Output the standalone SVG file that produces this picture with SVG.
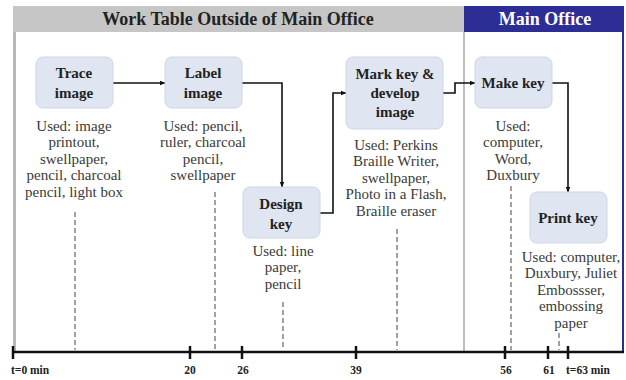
<svg xmlns="http://www.w3.org/2000/svg" width="626" height="380" viewBox="0 0 626 380">
<defs>
<style>
.node rect{fill:#dfe5f1;stroke:#cdd5e4;stroke-width:1}
.nl{font-family:"Liberation Serif",serif;font-weight:bold;font-size:15px;fill:#222;text-anchor:middle}
.used{font-family:"Liberation Serif",serif;font-size:15px;fill:#3a3a3a;text-anchor:middle}
.hdr{font-family:"Liberation Serif",serif;font-weight:bold;font-size:18px;text-anchor:middle}
.tl{font-family:"Liberation Serif",serif;font-weight:bold;font-size:11.5px;fill:#222}
.conn{fill:none;stroke:#111;stroke-width:1.6}
.dash{stroke:#444;stroke-width:1;stroke-dasharray:5,3}
.tick{stroke:#111;stroke-width:2.5}
</style>
<marker id="arr" viewBox="0 0 10 10" refX="9" refY="5" markerWidth="6" markerHeight="6" orient="auto" markerUnits="userSpaceOnUse">
<path d="M0,1 L10,5 L0,9 z" fill="#111"/>
</marker>
</defs>
<rect width="626" height="380" fill="#fff"/>
<g id="background">
<rect x="13" y="6" width="451" height="26" fill="#c6c6c6"/>
<rect x="464" y="6" width="160" height="26" fill="#2d2d96"/>
<text class="hdr" x="238" y="25" fill="#222">Work Table Outside of Main Office</text>
<text class="hdr" x="545" y="25" fill="#fff">Main Office</text>
<line x1="14.5" y1="32" x2="14.5" y2="352" stroke="#b8b8b8" stroke-width="3"/>
<line x1="464" y1="32" x2="464" y2="352" stroke="#bdbdbd" stroke-width="2"/>
<line x1="623" y1="32" x2="623" y2="352" stroke="#2d2d96" stroke-width="2"/>
</g>
<g id="dashes">
<line class="dash" x1="75" y1="212" x2="75" y2="350"/>
<line class="dash" x1="215" y1="192" x2="215" y2="350"/>
<line class="dash" x1="283" y1="302" x2="283" y2="350"/>
<line class="dash" x1="397" y1="229" x2="397" y2="350"/>
<line class="dash" x1="511" y1="186" x2="511" y2="350"/>
<line class="dash" x1="559" y1="333" x2="559" y2="350"/>
</g>
<g id="timeline">
<line x1="13" y1="352" x2="624" y2="352" stroke="#111" stroke-width="2.5"/>
<line class="tick" x1="13" y1="346" x2="13" y2="359"/>
<line class="tick" x1="190" y1="346" x2="190" y2="359"/>
<line class="tick" x1="242" y1="346" x2="242" y2="359"/>
<line class="tick" x1="356" y1="346" x2="356" y2="359"/>
<line class="tick" x1="505" y1="346" x2="505" y2="359"/>
<line class="tick" x1="548" y1="346" x2="548" y2="359"/>
<line class="tick" x1="568" y1="346" x2="568" y2="359"/>
<text class="tl" x="11" y="374">t=0 min</text>
<text class="tl" x="190" y="374" text-anchor="middle">20</text>
<text class="tl" x="243" y="374" text-anchor="middle">26</text>
<text class="tl" x="356" y="374" text-anchor="middle">39</text>
<text class="tl" x="506" y="374" text-anchor="middle">56</text>
<text class="tl" x="549" y="374" text-anchor="middle">61</text>
<text class="tl" x="566" y="374">t=63 min</text>
</g>
<g id="connectors">
<line class="conn" x1="113" y1="83" x2="165" y2="83" marker-end="url(#arr)"/>
<polyline class="conn" points="242,83 282,83 282,187" marker-end="url(#arr)"/>
<polyline class="conn" points="320,213 333,213 333,93 346,93" marker-end="url(#arr)"/>
<polyline class="conn" points="443,93 455,93 455,83 475,83" marker-end="url(#arr)"/>
<polyline class="conn" points="552,83 568,83 568,192" marker-end="url(#arr)"/>
</g>
<g id="trace" class="node">
<rect x="36" y="57" width="77" height="51" rx="7"/>
<text class="nl" x="74" y="78">Trace</text>
<text class="nl" x="74" y="98">image</text>
<text class="used" x="74" y="131">Used: image</text>
<text class="used" x="74" y="147">printout,</text>
<text class="used" x="74" y="164">swellpaper,</text>
<text class="used" x="74" y="180">pencil, charcoal</text>
<text class="used" x="74" y="197">pencil, light box</text>
</g>
<g id="label" class="node">
<rect x="165" y="57" width="77" height="51" rx="7"/>
<text class="nl" x="203" y="78">Label</text>
<text class="nl" x="203" y="98">image</text>
<text class="used" x="203" y="131">Used: pencil,</text>
<text class="used" x="203" y="147">ruler, charcoal</text>
<text class="used" x="203" y="164">pencil,</text>
<text class="used" x="203" y="180">swellpaper</text>
</g>
<g id="design" class="node">
<rect x="243" y="187" width="77" height="51" rx="7"/>
<text class="nl" x="281" y="209">Design</text>
<text class="nl" x="281" y="229">key</text>
<text class="used" x="283" y="256">Used: line</text>
<text class="used" x="283" y="272">paper,</text>
<text class="used" x="283" y="289">pencil</text>
</g>
<g id="mark" class="node">
<rect x="346" y="57" width="97" height="72" rx="7"/>
<text class="nl" x="395" y="79">Mark key &amp;</text>
<text class="nl" x="395" y="98">develop</text>
<text class="nl" x="395" y="117">image</text>
<text class="used" x="396" y="150">Used: Perkins</text>
<text class="used" x="396" y="166">Braille Writer,</text>
<text class="used" x="396" y="183">swellpaper,</text>
<text class="used" x="396" y="199">Photo in a Flash,</text>
<text class="used" x="396" y="216">Braille eraser</text>
</g>
<g id="make" class="node">
<rect x="475" y="57" width="77" height="51" rx="7"/>
<text class="nl" x="513" y="88">Make key</text>
<text class="used" x="513" y="131">Used:</text>
<text class="used" x="513" y="147">computer,</text>
<text class="used" x="513" y="164">Word,</text>
<text class="used" x="513" y="180">Duxbury</text>
</g>
<g id="print" class="node">
<rect x="530" y="192" width="77" height="51" rx="7"/>
<text class="nl" x="568" y="223">Print key</text>
<text class="used" x="571" y="262">Used: computer,</text>
<text class="used" x="571" y="278">Duxbury, Juliet</text>
<text class="used" x="571" y="295">Embossser,</text>
<text class="used" x="571" y="311">embossing</text>
<text class="used" x="571" y="328">paper</text>
</g>
</svg>
